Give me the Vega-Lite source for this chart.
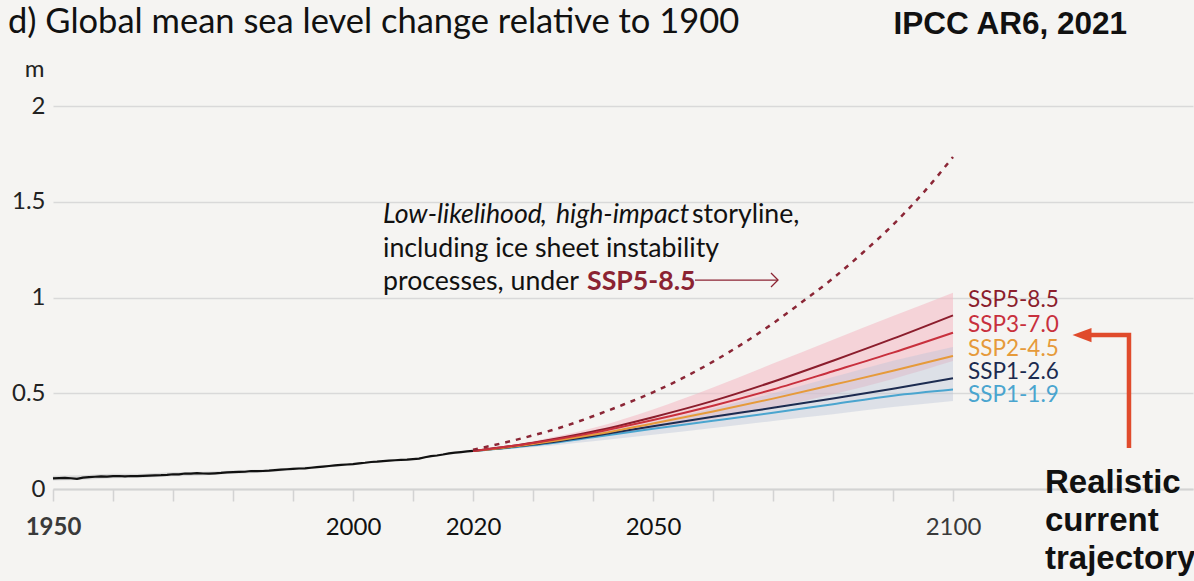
{
  "$schema": "https://vega.github.io/schema/vega-lite/v6.json",
  "width": 1140,
  "height": 383,
  "autosize": {"type": "none"},
  "padding": {"left": 53, "top": 106, "right": 1, "bottom": 92},
  "background": "#f5f4f2",
  "config": {"view": {"stroke": null}, "font": "Lato"},
  "datasets": {
    "hist": [
      {"year":1950,"value":0.055},{"year":1951,"value":0.057},{"year":1952,"value":0.058},{"year":1953,"value":0.056},{"year":1954,"value":0.053},
      {"year":1955,"value":0.059},{"year":1956,"value":0.062},{"year":1957,"value":0.064},{"year":1958,"value":0.066},{"year":1959,"value":0.065},
      {"year":1960,"value":0.067},{"year":1961,"value":0.068},{"year":1962,"value":0.066},{"year":1963,"value":0.068},{"year":1964,"value":0.067},
      {"year":1965,"value":0.069},{"year":1966,"value":0.070},{"year":1967,"value":0.071},{"year":1968,"value":0.072},{"year":1969,"value":0.074},
      {"year":1970,"value":0.077},{"year":1971,"value":0.076},{"year":1972,"value":0.081},{"year":1973,"value":0.080},{"year":1974,"value":0.083},
      {"year":1975,"value":0.081},{"year":1976,"value":0.080},{"year":1977,"value":0.082},{"year":1978,"value":0.084},{"year":1979,"value":0.087},
      {"year":1980,"value":0.088},{"year":1981,"value":0.089},{"year":1982,"value":0.090},{"year":1983,"value":0.094},{"year":1984,"value":0.093},
      {"year":1985,"value":0.094},{"year":1986,"value":0.096},{"year":1987,"value":0.099},{"year":1988,"value":0.101},{"year":1989,"value":0.103},
      {"year":1990,"value":0.105},{"year":1991,"value":0.107},{"year":1992,"value":0.108},{"year":1993,"value":0.111},{"year":1994,"value":0.114},
      {"year":1995,"value":0.117},{"year":1996,"value":0.120},{"year":1997,"value":0.123},{"year":1998,"value":0.126},{"year":1999,"value":0.128},
      {"year":2000,"value":0.130},{"year":2001,"value":0.134},{"year":2002,"value":0.137},{"year":2003,"value":0.141},{"year":2004,"value":0.143},
      {"year":2005,"value":0.146},{"year":2006,"value":0.148},{"year":2007,"value":0.150},{"year":2008,"value":0.152},{"year":2009,"value":0.153},
      {"year":2010,"value":0.156},{"year":2011,"value":0.159},{"year":2012,"value":0.166},{"year":2013,"value":0.172},{"year":2014,"value":0.175},
      {"year":2015,"value":0.180},{"year":2016,"value":0.186},{"year":2017,"value":0.190},{"year":2018,"value":0.193},{"year":2019,"value":0.196},
      {"year":2020,"value":0.199}
    ],
    "histband": [
      {"year":1950,"lo":0.044,"hi":0.069},{"year":1955,"lo":0.048,"hi":0.072},{"year":1960,"lo":0.056,"hi":0.079},
      {"year":1965,"lo":0.059,"hi":0.080},{"year":1970,"lo":0.067,"hi":0.087},{"year":1975,"lo":0.071,"hi":0.090},
      {"year":1980,"lo":0.079,"hi":0.097},{"year":1985,"lo":0.086,"hi":0.102},{"year":1990,"lo":0.098,"hi":0.112},
      {"year":1995,"lo":0.111,"hi":0.123},{"year":2000,"lo":0.124,"hi":0.136},{"year":2005,"lo":0.141,"hi":0.151},
      {"year":2010,"lo":0.151,"hi":0.161},{"year":2015,"lo":0.176,"hi":0.184},{"year":2020,"lo":0.195,"hi":0.203}
    ],
    "bands": [
      {"band":"pink","year":2020,"lo":0.198,"hi":0.198},{"band":"pink","year":2030,"lo":0.225,"hi":0.25},
      {"band":"pink","year":2040,"lo":0.268,"hi":0.318},{"band":"pink","year":2050,"lo":0.315,"hi":0.415},
      {"band":"pink","year":2060,"lo":0.365,"hi":0.53},{"band":"pink","year":2070,"lo":0.425,"hi":0.655},
      {"band":"pink","year":2080,"lo":0.495,"hi":0.78},{"band":"pink","year":2090,"lo":0.575,"hi":0.903},
      {"band":"pink","year":2100,"lo":0.668,"hi":1.025},
      {"band":"blue","year":2020,"lo":0.198,"hi":0.198},{"band":"blue","year":2030,"lo":0.218,"hi":0.238},
      {"band":"blue","year":2040,"lo":0.25,"hi":0.29},{"band":"blue","year":2050,"lo":0.283,"hi":0.35},
      {"band":"blue","year":2060,"lo":0.318,"hi":0.42},{"band":"blue","year":2070,"lo":0.355,"hi":0.50},
      {"band":"blue","year":2080,"lo":0.39,"hi":0.585},{"band":"blue","year":2090,"lo":0.428,"hi":0.67},
      {"band":"blue","year":2100,"lo":0.46,"hi":0.742}
    ],
    "proj": [
      {"scenario":"SSP1-1.9","year":2020,"value":0.198},{"scenario":"SSP1-1.9","year":2030,"value":0.228},{"scenario":"SSP1-1.9","year":2040,"value":0.27},
      {"scenario":"SSP1-1.9","year":2050,"value":0.315},{"scenario":"SSP1-1.9","year":2060,"value":0.356},{"scenario":"SSP1-1.9","year":2070,"value":0.398},
      {"scenario":"SSP1-1.9","year":2080,"value":0.443},{"scenario":"SSP1-1.9","year":2090,"value":0.487},{"scenario":"SSP1-1.9","year":2100,"value":0.519},
      {"scenario":"SSP1-2.6","year":2020,"value":0.198},{"scenario":"SSP1-2.6","year":2030,"value":0.232},{"scenario":"SSP1-2.6","year":2040,"value":0.277},
      {"scenario":"SSP1-2.6","year":2050,"value":0.328},{"scenario":"SSP1-2.6","year":2060,"value":0.377},{"scenario":"SSP1-2.6","year":2070,"value":0.424},
      {"scenario":"SSP1-2.6","year":2080,"value":0.473},{"scenario":"SSP1-2.6","year":2090,"value":0.524},{"scenario":"SSP1-2.6","year":2100,"value":0.578},
      {"scenario":"SSP2-4.5","year":2020,"value":0.198},{"scenario":"SSP2-4.5","year":2030,"value":0.235},{"scenario":"SSP2-4.5","year":2040,"value":0.283},
      {"scenario":"SSP2-4.5","year":2050,"value":0.342},{"scenario":"SSP2-4.5","year":2060,"value":0.405},{"scenario":"SSP2-4.5","year":2070,"value":0.472},
      {"scenario":"SSP2-4.5","year":2080,"value":0.544},{"scenario":"SSP2-4.5","year":2090,"value":0.617},{"scenario":"SSP2-4.5","year":2100,"value":0.695},
      {"scenario":"SSP5-8.5","year":2020,"value":0.198},{"scenario":"SSP5-8.5","year":2030,"value":0.242},{"scenario":"SSP5-8.5","year":2040,"value":0.30},
      {"scenario":"SSP5-8.5","year":2050,"value":0.375},{"scenario":"SSP5-8.5","year":2060,"value":0.46},{"scenario":"SSP5-8.5","year":2070,"value":0.56},
      {"scenario":"SSP5-8.5","year":2080,"value":0.67},{"scenario":"SSP5-8.5","year":2090,"value":0.785},{"scenario":"SSP5-8.5","year":2100,"value":0.907},
      {"scenario":"SSP3-7.0","year":2020,"value":0.198},{"scenario":"SSP3-7.0","year":2030,"value":0.24},{"scenario":"SSP3-7.0","year":2040,"value":0.293},
      {"scenario":"SSP3-7.0","year":2050,"value":0.36},{"scenario":"SSP3-7.0","year":2060,"value":0.435},{"scenario":"SSP3-7.0","year":2070,"value":0.52},
      {"scenario":"SSP3-7.0","year":2080,"value":0.615},{"scenario":"SSP3-7.0","year":2090,"value":0.712},{"scenario":"SSP3-7.0","year":2100,"value":0.816}
    ],
    "story": [
      {"year":2020,"value":0.205},{"year":2025,"value":0.24},{"year":2030,"value":0.28},{"year":2035,"value":0.325},
      {"year":2040,"value":0.38},{"year":2045,"value":0.44},{"year":2050,"value":0.505},{"year":2055,"value":0.58},
      {"year":2060,"value":0.665},{"year":2065,"value":0.76},{"year":2070,"value":0.865},{"year":2075,"value":0.98},
      {"year":2080,"value":1.10},{"year":2085,"value":1.235},{"year":2090,"value":1.38},{"year":2095,"value":1.545},
      {"year":2100,"value":1.734}
    ],
    "labels": [
      {"scenario":"SSP5-8.5","year":2102.5,"value":0.948},
      {"scenario":"SSP3-7.0","year":2102.5,"value":0.822},
      {"scenario":"SSP2-4.5","year":2102.5,"value":0.692},
      {"scenario":"SSP1-2.6","year":2102.5,"value":0.572},
      {"scenario":"SSP1-1.9","year":2102.5,"value":0.452}
    ],
    "notes": [
      {"style":"italic","text":"Low-likelihood","year":2005,"value":1.388},
      {"style":"normal","text":",","year":2031.17,"value":1.388},
      {"style":"italic","text":"high-impact","year":2033.83,"value":1.388},
      {"style":"normal","text":"storyline,","year":2056.5,"value":1.388},
      {"style":"normal","text":"including ice sheet instability","year":2005,"value":1.213},
      {"style":"normal","text":"processes, under","year":2005,"value":1.038},
      {"style":"bold","text":"SSP5-8.5","year":2039,"value":1.038}
    ],
    "storyarrow": [{"year":2057,"year_end":2070.8,"value":1.091}],
    "storyhead": [{"year":2070.25,"value":1.091}],
    "realarrow": [
      {"step":1,"year":2129.33,"value":0.214},
      {"step":2,"year":2129.33,"value":0.804},
      {"step":3,"year":2123,"value":0.804}
    ],
    "realhead": [{"year":2121.5,"value":0.804}],
    "heading": [{"text":"d) Global mean sea level change relative to 1900","year":1942.5,"value":2.381}],
    "source": [{"text":"IPCC AR6, 2021","year":2090.1,"value":2.378}],
    "callout": [{"text":"Realistic\ncurrent\ntrajectory","year":2115.33,"value":-0.021}]
  },
  "layer": [
    {
      "data": {"name": "bands"},
      "transform": [{"filter": "datum.band == 'pink'"}],
      "mark": {"type": "area", "interpolate": "monotone", "color": "#f4b8c3", "opacity": 0.55},
      "encoding": {
        "x": {
          "field": "year", "type": "quantitative",
          "scale": {"domain": [1950, 2140], "nice": false, "zero": false},
          "axis": {
            "values": [1950,1960,1970,1980,1990,2000,2010,2020,2030,2040,2050,2060,2070,2080,2090,2100],
            "format": "d",
            "labelExpr": "indexof([1950,2000,2020,2050,2100], datum.value) >= 0 ? datum.label : ''",
            "title": null,
            "grid": false,
            "domainColor": "#d3d3d3", "domainWidth": 2,
            "tickColor": "#d3d3d3", "tickWidth": 1.5, "tickSize": 12,
            "labelFont": "Lato", "labelFontSize": 24, "labelPadding": 14,
            "labelOverlap": false, "labelFlush": false, "labelBound": false,
            "labelColor": {"condition": {"test": "datum.value == 1950 || datum.value == 2100", "value": "#3a3a3a"}, "value": "#111111"},
            "labelFontWeight": {"condition": {"test": "datum.value == 1950", "value": "bold"}, "value": "normal"}
          }
        },
        "y": {
          "field": "lo", "type": "quantitative",
          "scale": {"domain": [0, 2], "nice": false},
          "axis": {
            "values": [0, 0.5, 1, 1.5, 2],
            "format": "~g",
            "title": "m", "titleAngle": 0, "titleX": -19, "titleY": -37,
            "titleAlign": "center", "titleBaseline": "middle",
            "titleFont": "Lato", "titleFontSize": 24, "titleFontWeight": "normal", "titleColor": "#222222",
            "domain": false, "ticks": false,
            "grid": true, "gridColor": "#d9d9d9", "gridWidth": 1.5,
            "labelFont": "Lato", "labelFontSize": 24, "labelColor": "#222222", "labelPadding": 8
          }
        },
        "y2": {"field": "hi"}
      }
    },
    {
      "data": {"name": "bands"},
      "transform": [{"filter": "datum.band == 'blue'"}],
      "mark": {"type": "area", "interpolate": "monotone", "color": "#b9c4d6", "opacity": 0.4},
      "encoding": {
        "x": {"field": "year", "type": "quantitative"},
        "y": {"field": "lo", "type": "quantitative"},
        "y2": {"field": "hi"}
      }
    },
    {
      "data": {"name": "histband"},
      "mark": {"type": "area", "interpolate": "monotone", "color": "#d6d6d6", "opacity": 0.9},
      "encoding": {
        "x": {"field": "year", "type": "quantitative"},
        "y": {"field": "lo", "type": "quantitative"},
        "y2": {"field": "hi"}
      }
    },
    {
      "data": {"name": "hist"},
      "mark": {"type": "line", "color": "#111111", "strokeWidth": 2.2},
      "encoding": {
        "x": {"field": "year", "type": "quantitative"},
        "y": {"field": "value", "type": "quantitative"}
      }
    },
    {
      "data": {"name": "proj"},
      "mark": {"type": "line", "interpolate": "monotone", "strokeWidth": 2},
      "encoding": {
        "x": {"field": "year", "type": "quantitative"},
        "y": {"field": "value", "type": "quantitative"},
        "color": {
          "field": "scenario", "type": "nominal",
          "scale": {
            "domain": ["SSP5-8.5", "SSP3-7.0", "SSP2-4.5", "SSP1-2.6", "SSP1-1.9"],
            "range": ["#8b1d2c", "#c8303d", "#e69a3a", "#1c2b50", "#4aa5cf"]
          },
          "legend": null
        }
      }
    },
    {
      "data": {"name": "story"},
      "mark": {"type": "line", "interpolate": "monotone", "color": "#8b2636", "strokeWidth": 2.5, "strokeDash": [5, 6]},
      "encoding": {
        "x": {"field": "year", "type": "quantitative"},
        "y": {"field": "value", "type": "quantitative"}
      }
    },
    {
      "data": {"name": "labels"},
      "mark": {"type": "text", "align": "left", "baseline": "alphabetic", "font": "Lato", "fontSize": 22.5},
      "encoding": {
        "x": {"field": "year", "type": "quantitative"},
        "y": {"field": "value", "type": "quantitative"},
        "text": {"field": "scenario"},
        "color": {"field": "scenario", "type": "nominal", "legend": null}
      }
    },
    {
      "data": {"name": "notes"},
      "transform": [{"filter": "datum.style == 'italic'"}],
      "mark": {"type": "text", "align": "left", "baseline": "alphabetic", "font": "Lato", "fontSize": 26.7, "fontStyle": "italic", "color": "#111111"},
      "encoding": {
        "x": {"field": "year", "type": "quantitative"},
        "y": {"field": "value", "type": "quantitative"},
        "text": {"field": "text"}
      }
    },
    {
      "data": {"name": "notes"},
      "transform": [{"filter": "datum.style == 'normal'"}],
      "mark": {"type": "text", "align": "left", "baseline": "alphabetic", "font": "Lato", "fontSize": 26.7, "color": "#111111"},
      "encoding": {
        "x": {"field": "year", "type": "quantitative"},
        "y": {"field": "value", "type": "quantitative"},
        "text": {"field": "text"}
      }
    },
    {
      "data": {"name": "notes"},
      "transform": [{"filter": "datum.style == 'bold'"}],
      "mark": {"type": "text", "align": "left", "baseline": "alphabetic", "font": "Lato", "fontSize": 26.7, "fontWeight": "bold", "color": "#8b2332"},
      "encoding": {
        "x": {"field": "year", "type": "quantitative"},
        "y": {"field": "value", "type": "quantitative"},
        "text": {"field": "text"}
      }
    },
    {
      "data": {"name": "storyarrow"},
      "mark": {"type": "rule", "color": "#8b2332", "strokeWidth": 1.3},
      "encoding": {
        "x": {"field": "year", "type": "quantitative"},
        "x2": {"field": "year_end"},
        "y": {"field": "value", "type": "quantitative"}
      }
    },
    {
      "data": {"name": "storyhead"},
      "mark": {"type": "point", "shape": "M-0.5,-1L0.5,0L-0.5,1", "filled": false, "color": "#8b2332", "strokeWidth": 1.3, "size": 196, "opacity": 1},
      "encoding": {
        "x": {"field": "year", "type": "quantitative"},
        "y": {"field": "value", "type": "quantitative"}
      }
    },
    {
      "data": {"name": "realarrow"},
      "mark": {"type": "line", "color": "#e04b2c", "strokeWidth": 4.5, "strokeJoin": "miter", "strokeCap": "butt"},
      "encoding": {
        "x": {"field": "year", "type": "quantitative"},
        "y": {"field": "value", "type": "quantitative"},
        "order": {"field": "step"}
      }
    },
    {
      "data": {"name": "realhead"},
      "mark": {"type": "point", "shape": "M-1,0L1,-0.75L1,0.75Z", "filled": true, "color": "#e04b2c", "size": 361, "opacity": 1},
      "encoding": {
        "x": {"field": "year", "type": "quantitative"},
        "y": {"field": "value", "type": "quantitative"}
      }
    },
    {
      "data": {"name": "heading"},
      "mark": {"type": "text", "align": "left", "baseline": "alphabetic", "font": "Lato", "fontSize": 34.5, "color": "#111111"},
      "encoding": {
        "x": {"field": "year", "type": "quantitative"},
        "y": {"field": "value", "type": "quantitative"},
        "text": {"field": "text"}
      }
    },
    {
      "data": {"name": "source"},
      "mark": {"type": "text", "align": "left", "baseline": "alphabetic", "font": "Liberation Sans", "fontSize": 31.5, "fontWeight": "bold", "color": "#111111"},
      "encoding": {
        "x": {"field": "year", "type": "quantitative"},
        "y": {"field": "value", "type": "quantitative"},
        "text": {"field": "text"}
      }
    },
    {
      "data": {"name": "callout"},
      "mark": {"type": "text", "align": "left", "baseline": "alphabetic", "font": "Liberation Sans", "fontSize": 33, "fontWeight": "bold", "color": "#111111", "lineBreak": "\n", "lineHeight": 38},
      "encoding": {
        "x": {"field": "year", "type": "quantitative"},
        "y": {"field": "value", "type": "quantitative"},
        "text": {"field": "text"}
      }
    }
  ]
}
